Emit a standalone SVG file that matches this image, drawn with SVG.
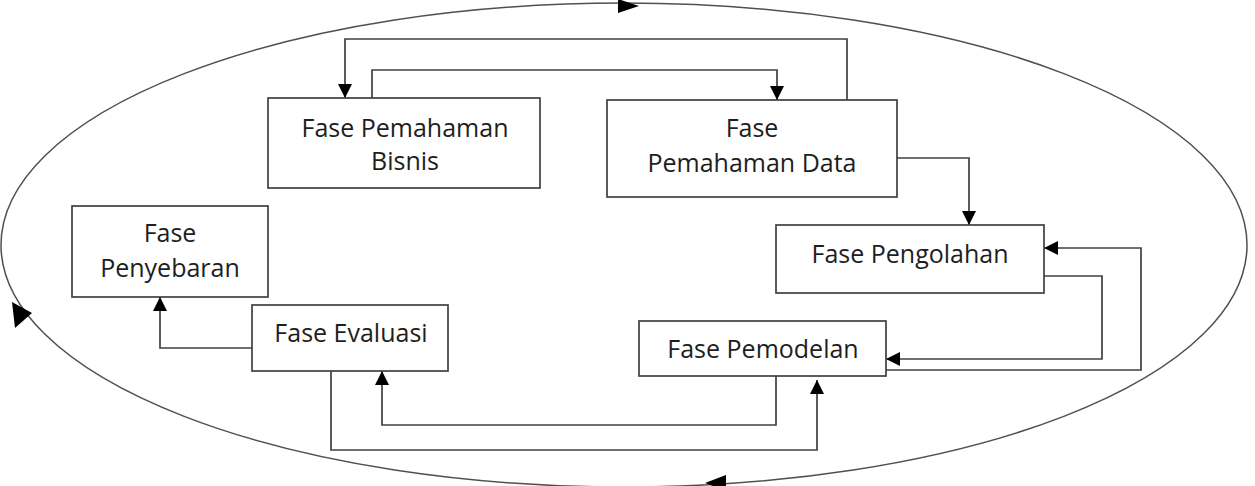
<svg xmlns="http://www.w3.org/2000/svg" width="1255" height="486" viewBox="0 0 1255 486">
  <style>
    .box { fill: #ffffff; stroke: #404040; stroke-width: 1.7; }
    .lbl { font-family: "Open Sans", "Noto Sans", "Liberation Sans", sans-serif; font-size: 25px; fill: #1e1e1e; text-anchor: middle; }
    .con { fill: none; stroke: #404040; stroke-width: 1.7; }
    .cyc { fill: none; stroke: #505050; stroke-width: 1.5; }
    .head { fill: #000000; }
  </style>
  <defs>
    <marker id="arr" markerUnits="userSpaceOnUse" markerWidth="14" markerHeight="14" refX="14" refY="7" orient="auto">
      <path d="M0,0 L14,7 L0,14 z" fill="#000"/>
    </marker>
  </defs>

  <g id="cycle">
    <ellipse class="cyc" cx="624" cy="245" rx="623" ry="242"/>
    <polygon class="head" points="618,-1 639,6 618,13"/>
    <polygon class="head" points="12,302 32,313 15,328"/>
    <polygon class="head" points="705,483 726,475 726,491"/>
  </g>

  <g id="connectors">
    <path class="con" d="M847,100 V39 H345 V98" marker-end="url(#arr)"/>
    <path class="con" d="M372,98 V70 H777 V100" marker-end="url(#arr)"/>
    <path class="con" d="M897,158 H969 V225" marker-end="url(#arr)"/>
    <path class="con" d="M1044,276 H1102 V359 H886" marker-end="url(#arr)"/>
    <path class="con" d="M886,370 H1141 V248 H1044" marker-end="url(#arr)"/>
    <path class="con" d="M776,376 V425 H382 V371" marker-end="url(#arr)"/>
    <path class="con" d="M331,371 V450 H817 V380" marker-end="url(#arr)"/>
    <path class="con" d="M252,348 H160 V297" marker-end="url(#arr)"/>
  </g>

  <g id="bisnis">
    <rect class="box" x="268" y="98" width="272" height="90"/>
    <text class="lbl" x="405" y="137">Fase Pemahaman</text>
    <text class="lbl" x="405" y="170">Bisnis</text>
  </g>
  <g id="data">
    <rect class="box" x="607" y="100" width="290" height="97"/>
    <text class="lbl" x="752" y="137">Fase</text>
    <text class="lbl" x="752" y="172">Pemahaman Data</text>
  </g>
  <g id="pengolahan">
    <rect class="box" x="776" y="225" width="268" height="68"/>
    <text class="lbl" x="910" y="263">Fase Pengolahan</text>
  </g>
  <g id="pemodelan">
    <rect class="box" x="639" y="321" width="247" height="55"/>
    <text class="lbl" x="763" y="358">Fase Pemodelan</text>
  </g>
  <g id="evaluasi">
    <rect class="box" x="252" y="305" width="196" height="66"/>
    <text class="lbl" x="351" y="342">Fase Evaluasi</text>
  </g>
  <g id="penyebaran">
    <rect class="box" x="72" y="206" width="196" height="91"/>
    <text class="lbl" x="170" y="242">Fase</text>
    <text class="lbl" x="170" y="277">Penyebaran</text>
  </g>
</svg>
